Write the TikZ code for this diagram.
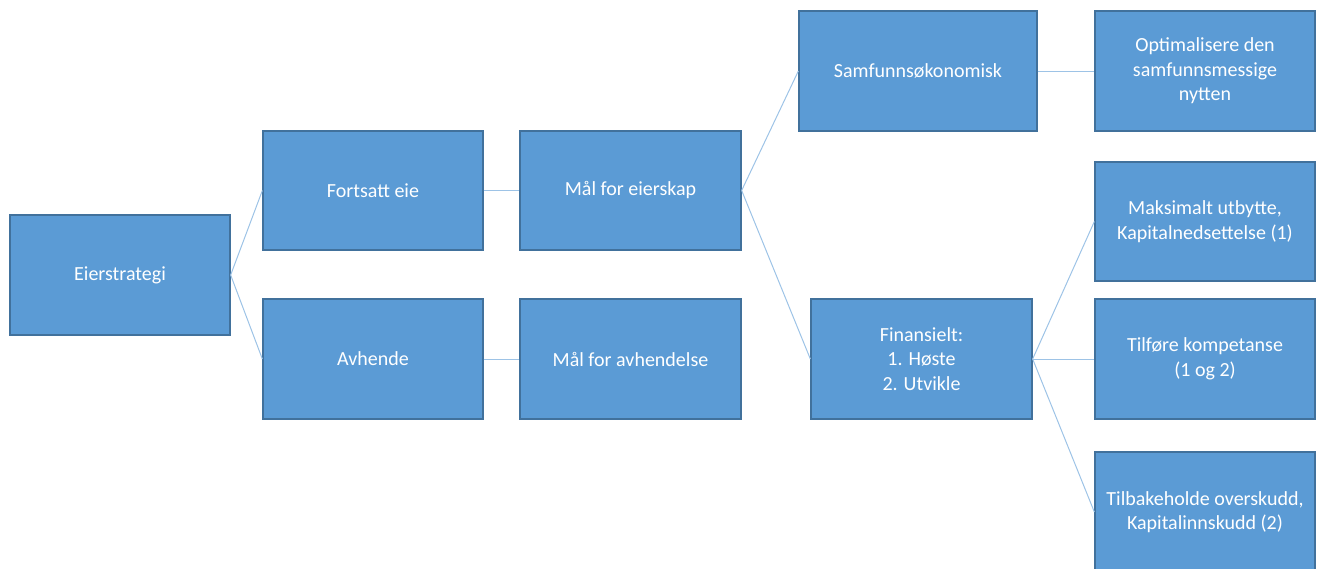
\documentclass[tikz,border=0pt]{standalone}
\usepackage{fontspec}
\setmainfont{Carlito}
\definecolor{boxfill}{HTML}{5B9BD5}
\definecolor{boxline}{HTML}{41719C}
\definecolor{conn}{HTML}{9DC3E6}
\begin{document}
\begin{tikzpicture}[x=1pt,y=-1pt,
  box/.style={draw=boxline,line width=1.3pt,fill=boxfill,text=white,align=center,
    inner sep=0pt,font=\fontsize{20}{24.5}\selectfont},
  link/.style={draw=conn,line width=1pt}]
\useasboundingbox (0,0) rectangle (1317,568);
\begin{scope}
\clip (0,0) rectangle (1317,568);
\newcommand\bx[6]{\node[box,minimum width=#4-#2,minimum height=#5-#3] (#1) at ({(#2+#4)/2},{(#3+#5)/2}) {#6};}
\bx{eier}{10}{215}{230}{335}{Eierstrategi}
\bx{fort}{263}{131}{483}{250}{Fortsatt eie}
\bx{avh}{263}{299}{483}{419}{Avhende}
\bx{maleie}{520}{131}{741}{250}{Mål for eierskap}
\bx{malavh}{520}{299}{741}{419}{Mål for avhendelse}
\bx{samf}{799}{11}{1037}{131}{Samfunnsøkonomisk}
\bx{opt}{1095}{11}{1315}{131}{Optimalisere den\\samfunnsmessige\\nytten}
\bx{fin}{811}{299}{1032}{419}{Finansielt:\\1. Høste\\2. Utvikle}
\bx{maks}{1095}{162}{1315}{281}{Maksimalt utbytte,\\Kapitalnedsettelse (1)}
\bx{tilf}{1095}{299}{1315}{419}{Tilføre kompetanse\\(1 og 2)}
\bx{tilb}{1095}{452}{1315}{572}{Tilbakeholde overskudd,\\Kapitalinnskudd (2)}
\path[link] (eier.east) -- (fort.west);
\path[link] (eier.east) -- (avh.west);
\path[link] (fort.east) -- (maleie.west);
\path[link] (avh.east) -- (malavh.west);
\path[link] (maleie.east) -- (samf.west);
\path[link] (maleie.east) -- (fin.west);
\path[link] (samf.east) -- (opt.west);
\path[link] (fin.east) -- (maks.west);
\path[link] (fin.east) -- (tilf.west);
\path[link] (fin.east) -- (tilb.west);
\end{scope}
\end{tikzpicture}
\end{document}
